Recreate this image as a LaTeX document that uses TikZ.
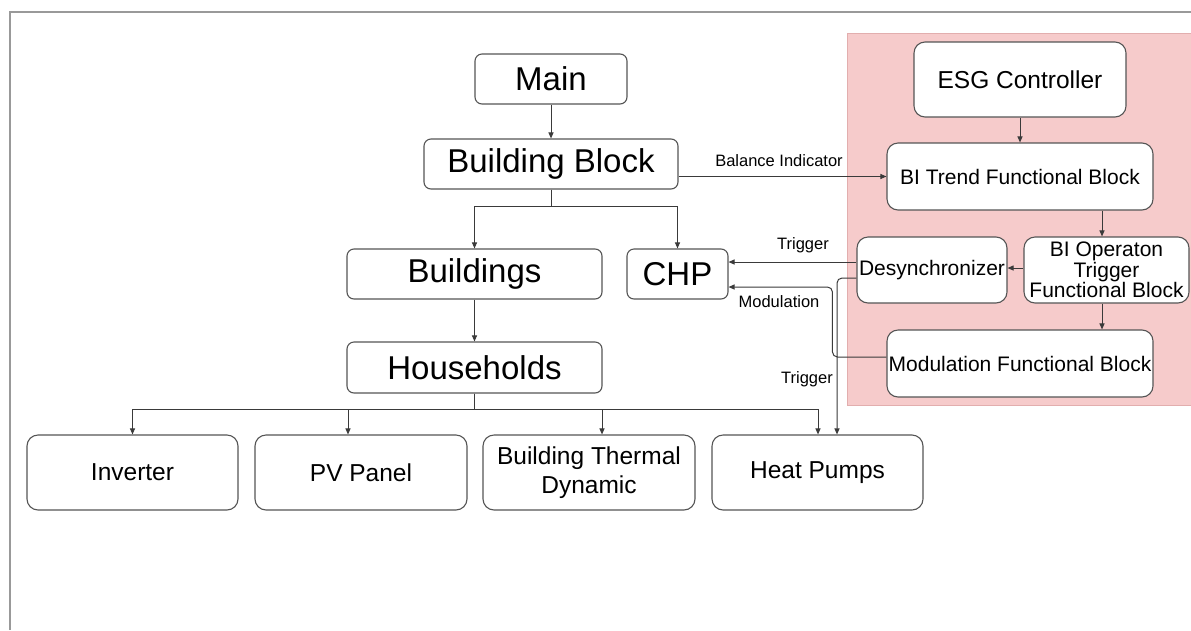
\documentclass[tikz,border=0pt]{standalone}
\usepackage{fontspec}
\setmainfont{Liberation Sans}
\usetikzlibrary{arrows.meta,calc}
\definecolor{pinkbg}{HTML}{F6CBCB}
\definecolor{pinkedge}{HTML}{E2AEAE}
\definecolor{boxc}{HTML}{555555}
\definecolor{linec}{HTML}{3A3A3A}
\definecolor{framec}{HTML}{999999}
\begin{document}
\begin{tikzpicture}[x=1pt,y=-1pt,
  box/.style={draw=boxc, line width=1.1pt, rounded corners=7pt, fill=white, inner sep=0pt, align=center},
  bigbox/.style={box, rounded corners=11pt},
  fbig/.style={font=\fontsize{33}{38}\selectfont},
  fmid/.style={font=\fontsize{24.5}{29}\selectfont},
  fsml/.style={font=\fontsize{21}{20.5}\selectfont},
  flab/.style={font=\fontsize{16.5}{19}\selectfont, inner sep=0pt},
  arr/.style={draw=linec, line width=1pt, -{Triangle[length=6pt,width=5pt]}},
  ln/.style={draw=linec, line width=1pt}]
\useasboundingbox (0,0) rectangle (1191,630);
\fill[white] (0,0) rectangle (1191,630);
% outer frame
\draw[framec, line width=2pt] (10,630) -- (10,12) -- (1191,12);
% pink region
\fill[pinkbg] (847,33) rectangle (1191,405);
\draw[pinkedge, line width=0.8pt] (1191,33) -- (847,33) -- (847,405) -- (1191,405);
% nodes
\node[box, fbig, minimum width=152pt, minimum height=50pt] (main) at (551,79) {Main};
\node[box, fbig, minimum width=254pt, minimum height=50pt] (bb) at (551,164) {Building Block};
\node[box, fbig, minimum width=255pt, minimum height=50pt] (bld) at (474.5,274) {Buildings};
\node[box, fbig, minimum width=101pt, minimum height=50pt] (chp) at (677.5,274) {CHP};
\node[box, fbig, minimum width=255pt, minimum height=51pt] (hh) at (474.5,367.5) {Households};
\node[bigbox, fmid, minimum width=211pt, minimum height=75pt] (inv) at (132.5,472.5) {Inverter};
\node[bigbox, fmid, minimum width=212pt, minimum height=75pt] (pv) at (361,472.5) {PV Panel};
\node[bigbox, fmid, minimum width=212pt, minimum height=75pt] (btd) at (589,472.5) {Building Thermal\\Dynamic};
\node[bigbox, fmid, minimum width=211pt, minimum height=75pt] (hp) at (817.5,472.5) {Heat Pumps};
\node[bigbox, fmid, minimum width=212pt, minimum height=75pt] (esg) at (1020,79.5) {ESG Controller};
\node[bigbox, fsml, minimum width=266pt, minimum height=67pt] (bit) at (1020,176.5) {BI Trend Functional Block};
\node[bigbox, fsml, minimum width=150pt, minimum height=66pt] (des) at (932,270) {Desynchronizer};
\node[bigbox, fsml, minimum width=165pt, minimum height=66pt] (bio) at (1106.5,270) {BI Operaton\\Trigger\\Functional Block};
\node[bigbox, fsml, minimum width=266pt, minimum height=67pt] (mod) at (1020,363.5) {Modulation Functional Block};
% connectors
\draw[arr] (main.south) -- (bb.north);
\draw[arr] (bb.south) -- ++(0,17) -| (bld.north);
\draw[arr] (bb.south) -- ++(0,17) -| (chp.north);
\draw[arr] (bld.south) -- (hh.north);
\draw[arr] (hh.south) -- ++(0,16) -| (inv.north);
\draw[arr] (hh.south) -- ++(0,16) -| ([xshift=-13pt]pv.north);
\draw[arr] (hh.south) -- ++(0,16) -| ([xshift=13pt]btd.north);
\draw[arr] (hh.south) -- ++(0,16) -| ([xshift=0.5pt]hp.north);
\draw[arr] (bit.west -| bb.east) -- (bit.west);
\node[flab] (lbi) at (779,161) {Balance Indicator};
\draw[arr] (esg.south) -- (bit.north);
\draw[arr] ([xshift=-4.5pt]bio.north |- bit.south) -- ([xshift=-4.5pt]bio.north);
\draw[arr] ([yshift=2pt]bio.west) -- ([yshift=2pt]des.east);
\draw[arr] ([xshift=-4.5pt]bio.south) -- ([xshift=-4.5pt]bio.south |- mod.north);
\draw[arr] ([yshift=8pt]des.west) -- ([yshift=8pt]des.west -| chp.east);
\node[flab] (lt1) at (803,245) {Trigger};
\draw[arr, rounded corners=5pt] ([yshift=6.5pt]mod.west) -- ++(-54,0) |- ([yshift=-13pt]chp.east);
\node[flab] (lmod) at (779,302) {Modulation};
\draw[arr, rounded corners=5pt] ([yshift=-8pt]des.west) -| ([xshift=19.5pt]hp.north);
\node[flab] (lt2) at (807,379) {Trigger};
\end{tikzpicture}
\end{document}
